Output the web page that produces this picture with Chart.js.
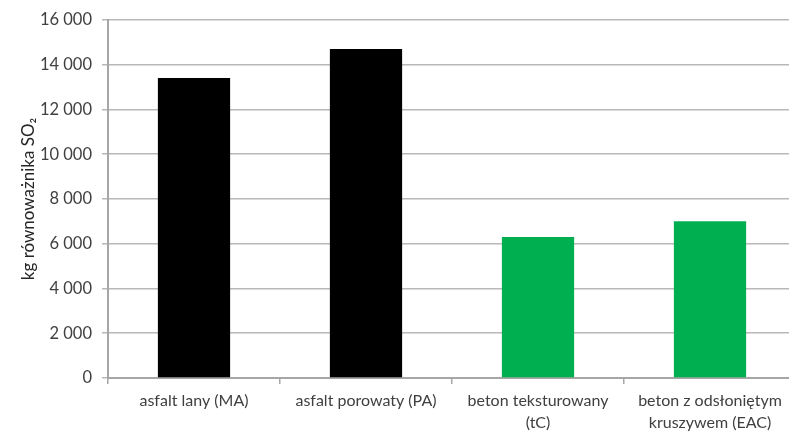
<!DOCTYPE html>
<html>
<head>
<meta charset="utf-8">
<script src="https://cdn.jsdelivr.net/npm/chart.js@4/dist/chart.umd.min.js"></script>
<style>
  html, body { margin: 0; padding: 0; background: #fff; overflow: hidden; }
  #wrap { width: 797px; height: 433px; }
</style>
</head>
<body>
<div id="wrap"><canvas id="c" width="797" height="433"></canvas></div>
<script>
// Emisje w kg równoważnika SO2 dla czterech rodzajów nawierzchni
const categories = [
  'asfalt lany (MA)',
  'asfalt porowaty (PA)',
  ['beton teksturowany', '(tC)'],
  ['beton z odsłoniętym', 'kruszywem (EAC)']
];
const values = [13400, 14700, 6300, 7000];
const barColors = ['#000000', '#000000', '#00b050', '#00b050'];
const yTicks = [0, 2000, 4000, 6000, 8000, 10000, 12000, 14000, 16000];
const yTitle = 'kg równoważnika SO₂';

const fmt = v => v >= 1000 ? Math.floor(v / 1000) + '\u00a0' + String(v % 1000).padStart(3, '0') : String(v);

new Chart(document.getElementById('c'), {
  type: 'bar',
  data: {
    labels: categories,
    datasets: [{
      data: values,
      backgroundColor: barColors,
      borderWidth: 0,
      barPercentage: 0.42,
      categoryPercentage: 1
    }]
  },
  options: {
    responsive: false,
    animation: false,
    layout: { padding: { top: 19, left: 0, right: 1, bottom: 0 } },
    plugins: { legend: { display: false }, tooltip: { enabled: false } },
    scales: {
      x: {
        grid: {
          offset: true,
          drawOnChartArea: false,
          drawTicks: true,
          tickLength: 6,
          color: '#a6a6a6',
          lineWidth: 1.5
        },
        border: { color: '#a6a6a6', width: 2 },
        ticks: {
          color: '#404040',
          font: { family: 'Lato', size: 16, lineHeight: 1.35 },
          padding: 6,
          maxRotation: 0,
          autoSkip: false
        },
        afterFit: s => { s.height = 55; }
      },
      y: {
        min: 0,
        max: 16000,
        afterBuildTicks: s => { s.ticks = yTicks.map(v => ({ value: v })); },
        grid: {
          color: '#b8b8b8',
          lineWidth: 1.5,
          drawTicks: true,
          tickLength: 6
        },
        border: { color: '#a6a6a6', width: 2 },
        ticks: {
          color: '#404040',
          font: { family: 'Lato', size: 16.5 },
          padding: 10,
          callback: v => fmt(v)
        },
        title: {
          display: true,
          text: yTitle,
          color: '#262626',
          font: { family: 'Lato', size: 17 },
          padding: { top: 18, bottom: 4 }
        },
        afterFit: s => { s.width = 108; }
      }
    }
  }
});
</script>
</body>
</html>
